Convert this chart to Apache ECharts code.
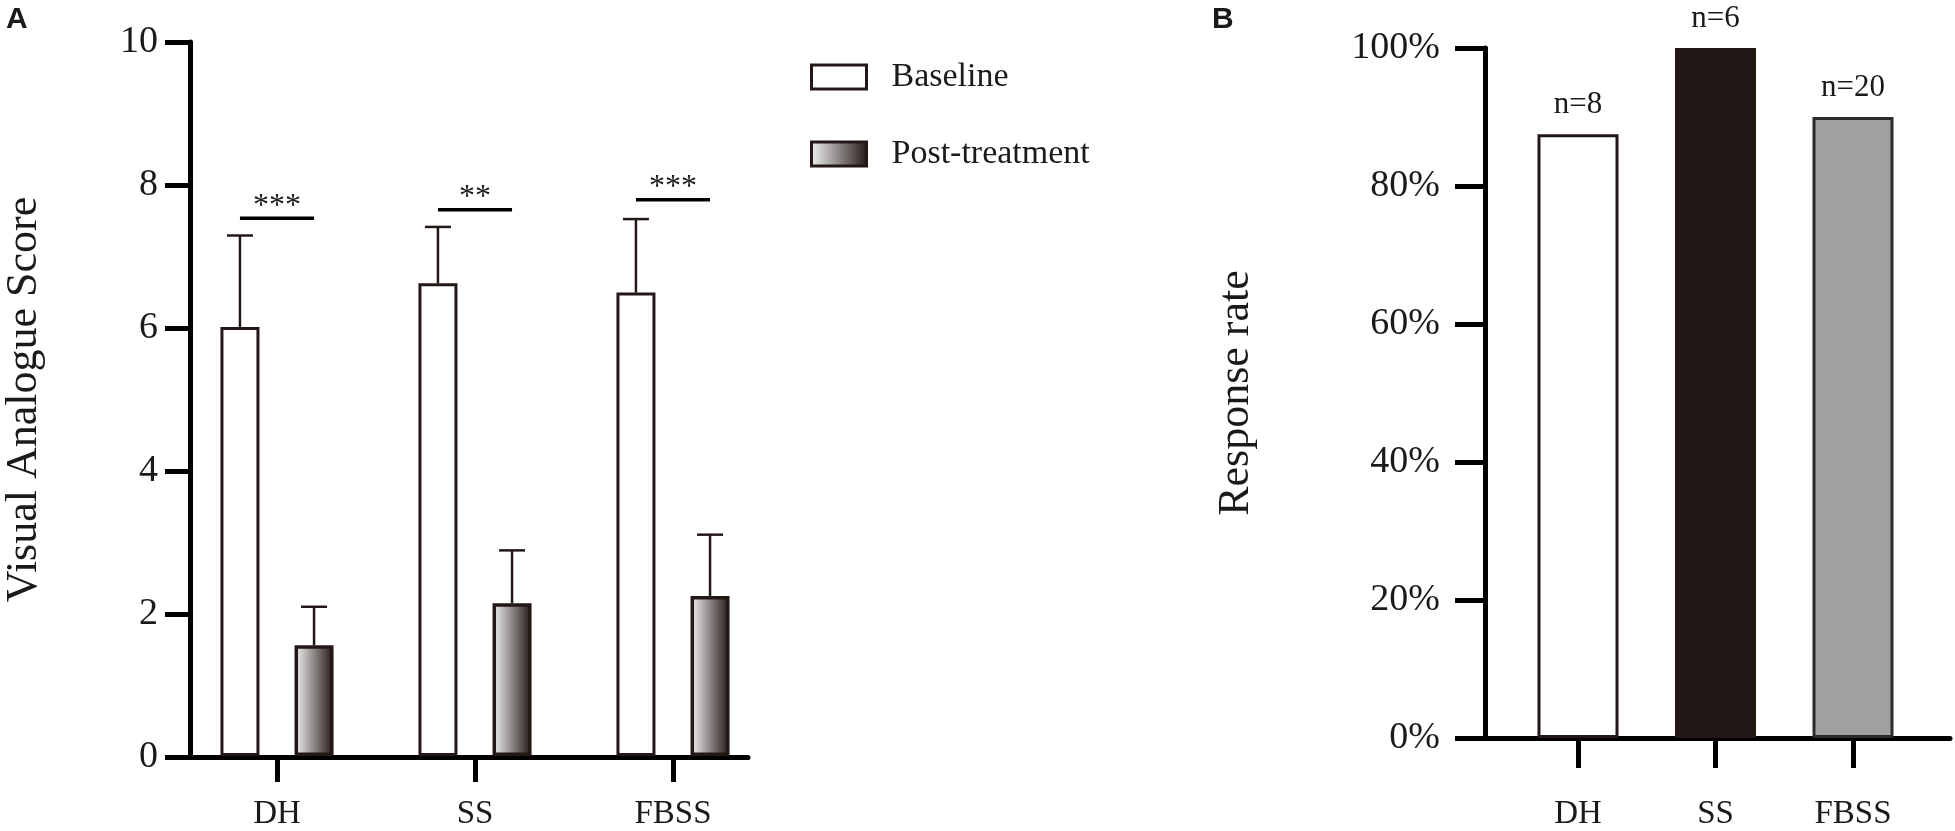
<!DOCTYPE html>
<html>
<head>
<meta charset="utf-8">
<title>VAS and response rate</title>
<script src="https://cdn.jsdelivr.net/npm/echarts@6.0.0/dist/echarts.min.js"></script>
<style>
    html, body { margin: 0; padding: 0; background: #fff; }
    #main { width: 1955px; height: 831px; }
</style>
</head>
<body>
<div id="main"></div>
<script>
    // data
    var groups = ['DH', 'SS', 'FBSS'];
    var baselineMean = [6.01, 6.62, 6.49];
    var baselineErr = [1.28, 0.79, 1.03];
    var postMean = [1.55, 2.14, 2.24];
    var postErr = [0.54, 0.74, 0.86];
    var sigY = [7.53, 7.65, 7.79];
    var sigText = ['***', '**', '***'];
    var vasTicks = [0, 2, 4, 6, 8, 10];
    var responseRate = [87.5, 100, 90];
    var nLabels = ['n=8', 'n=6', 'n=20'];
    var rateTicks = [0, 20, 40, 60, 80, 100];

    // styles
    var dark = '#231816';
    var ink = '#1a1a1a';
    var serif = '"Liberation Serif", "Times New Roman", serif';
    var rateFill = ['#ffffff', '#231816', '#a0a0a0'];
    var rateBorder = ['#231816', '#231816', '#2b2b2b'];
    var barW = 39;
    var barGapRatio = 0.9;
    var half = barW * (1 + barGapRatio) / 2;   // centre offset of a bar in its group

    var postColor = {
        type: 'linear', x: 0, y: 0, x2: 1, y2: 0,
        colorStops: [{offset: 0, color: '#f4f4f4'}, {offset: 1, color: dark}]
    };

    function errData(mean, err) {
        var out = [];
        for (var i = 0; i < mean.length; i++) {
            out.push([i, mean[i], mean[i] + err[i]]);
        }
        return out;
    }

    // upper error bar with a cap
    function errRender(side) {
        return function (params, api) {
            var idx = api.value(0);
            var base = api.coord([idx, api.value(1)]);
            var top = api.coord([idx, api.value(2)]);
            var x = base[0] + side * half;
            return {
                type: 'group',
                children: [
                    {type: 'line', shape: {x1: x, y1: base[1], x2: x, y2: top[1]},
                        style: {stroke: dark, lineWidth: 2.5}},
                    {type: 'line', shape: {x1: x - 13, y1: top[1], x2: x + 13, y2: top[1]},
                        style: {stroke: dark, lineWidth: 2.5}}
                ]
            };
        };
    }

    // significance bracket and stars
    function sigRender(params, api) {
        var p = api.coord([api.value(0), api.value(1)]);
        return {
            type: 'group',
            children: [
                {type: 'line', shape: {x1: p[0] - half, y1: p[1], x2: p[0] + half, y2: p[1]},
                    style: {stroke: '#000', lineWidth: 3.5}},
                {type: 'text', style: {text: sigText[params.dataIndex], x: p[0], y: p[1] - 12,
                    fontSize: 32, fontFamily: serif, fill: ink, align: 'center', verticalAlign: 'middle'}}
            ]
        };
    }

    var sigData = [];
    for (var i = 0; i < sigY.length; i++) {
        sigData.push([i, sigY[i]]);
    }

    var rateData = [];
    for (var j = 0; j < responseRate.length; j++) {
        rateData.push({value: responseRate[j], itemStyle: {color: rateFill[j], borderColor: rateBorder[j]}});
    }

    var axisLineStyle = {color: '#000', width: 5};

    var myChart = echarts.init(document.getElementById('main'));
    myChart.setOption({
        animation: false,
        backgroundColor: '#fff',
        graphic: [
            {type: 'text', left: 6, top: 5, style: {text: 'A', font: 'bold 30px "Liberation Sans"', fill: ink}},
            {type: 'text', left: 1212, top: 5, style: {text: 'B', font: 'bold 30px "Liberation Sans"', fill: ink}}
        ],
        legend: {
            data: ['Baseline', 'Post-treatment'],
            orient: 'vertical',
            left: 810,
            top: 60,
            padding: 0,
            icon: 'rect',
            itemWidth: 55,
            itemHeight: 24,
            itemGap: 43,
            itemStyle: {borderColor: dark, borderWidth: 3},
            textStyle: {fontSize: 34, fontFamily: serif, color: ink, lineHeight: 34, padding: [0, 0, 0, 20]}
        },
        grid: [
            {left: 178, top: 42, width: 594, height: 715},
            {left: 190, top: 42, width: 558, height: 715},
            {left: 1509.25, top: 48, width: 412.5, height: 690},
            {left: 1485, top: 48, width: 465, height: 690}
        ],
        xAxis: [
            {
                gridIndex: 0, type: 'category', data: groups,
                axisLine: {show: false},
                axisTick: {show: true, alignWithLabel: true, length: 26, lineStyle: axisLineStyle},
                axisLabel: {margin: 42, fontSize: 33, fontFamily: serif, color: ink}
            },
            {
                gridIndex: 1, type: 'value', min: 0, max: 1,
                axisLine: {show: true, onZero: false, lineStyle: axisLineStyle},
                axisTick: {show: false}, axisLabel: {show: false}, splitLine: {show: false}
            },
            {
                gridIndex: 2, type: 'category', data: groups,
                axisLine: {show: false},
                axisTick: {show: true, alignWithLabel: true, length: 30, lineStyle: axisLineStyle},
                axisLabel: {margin: 60, fontSize: 33, fontFamily: serif, color: ink}
            },
            {
                gridIndex: 3, type: 'value', min: 0, max: 1,
                axisLine: {show: true, onZero: false, lineStyle: axisLineStyle},
                axisTick: {show: false}, axisLabel: {show: false}, splitLine: {show: false}
            }
        ],
        yAxis: [
            {gridIndex: 0, type: 'value', min: vasTicks[0], max: vasTicks[vasTicks.length - 1], show: false},
            {
                gridIndex: 1, type: 'value',
                min: vasTicks[0], max: vasTicks[vasTicks.length - 1], interval: vasTicks[1] - vasTicks[0],
                axisLine: {show: true, onZero: false, lineStyle: axisLineStyle},
                axisTick: {show: true, length: 25, lineStyle: axisLineStyle},
                axisLabel: {margin: 32, fontSize: 38, fontFamily: serif, color: ink},
                splitLine: {show: false},
                name: 'Visual Analogue Score',
                nameLocation: 'middle',
                nameGap: 144,
                nameTextStyle: {fontSize: 44, fontFamily: serif, color: ink}
            },
            {gridIndex: 2, type: 'value', min: rateTicks[0], max: rateTicks[rateTicks.length - 1], show: false},
            {
                gridIndex: 3, type: 'value',
                min: rateTicks[0], max: rateTicks[rateTicks.length - 1], interval: rateTicks[1] - rateTicks[0],
                axisLine: {show: true, onZero: false, lineStyle: axisLineStyle},
                axisTick: {show: true, length: 30, lineStyle: axisLineStyle},
                axisLabel: {margin: 45, fontSize: 38, fontFamily: serif, color: ink, formatter: '{value}%'},
                splitLine: {show: false},
                name: 'Response rate',
                nameLocation: 'middle',
                nameGap: 227,
                nameTextStyle: {fontSize: 44, fontFamily: serif, color: ink}
            }
        ],
        series: [
            {
                name: 'Baseline', type: 'bar', xAxisIndex: 0, yAxisIndex: 0,
                data: baselineMean, barWidth: barW, barGap: (barGapRatio * 100) + '%',
                itemStyle: {color: '#ffffff', borderColor: dark, borderWidth: 3}
            },
            {
                name: 'Post-treatment', type: 'bar', xAxisIndex: 0, yAxisIndex: 0,
                data: postMean, barWidth: barW, barGap: (barGapRatio * 100) + '%',
                itemStyle: {color: postColor, borderColor: dark, borderWidth: 3.5}
            },
            {
                name: 'errBaseline', type: 'custom', xAxisIndex: 0, yAxisIndex: 0, z: 3,
                data: errData(baselineMean, baselineErr), renderItem: errRender(-1)
            },
            {
                name: 'errPost', type: 'custom', xAxisIndex: 0, yAxisIndex: 0, z: 3,
                data: errData(postMean, postErr), renderItem: errRender(1)
            },
            {
                name: 'sig', type: 'custom', xAxisIndex: 0, yAxisIndex: 0, z: 3,
                data: sigData, renderItem: sigRender
            },
            {
                name: 'Response rate', type: 'bar', xAxisIndex: 2, yAxisIndex: 2,
                data: rateData, barWidth: 81,
                itemStyle: {borderWidth: 3},
                label: {
                    show: true, position: 'top', distance: 14,
                    fontSize: 31, fontFamily: serif, color: ink,
                    formatter: function (p) { return nLabels[p.dataIndex]; }
                }
            }
        ]
    });
</script>
</body>
</html>
